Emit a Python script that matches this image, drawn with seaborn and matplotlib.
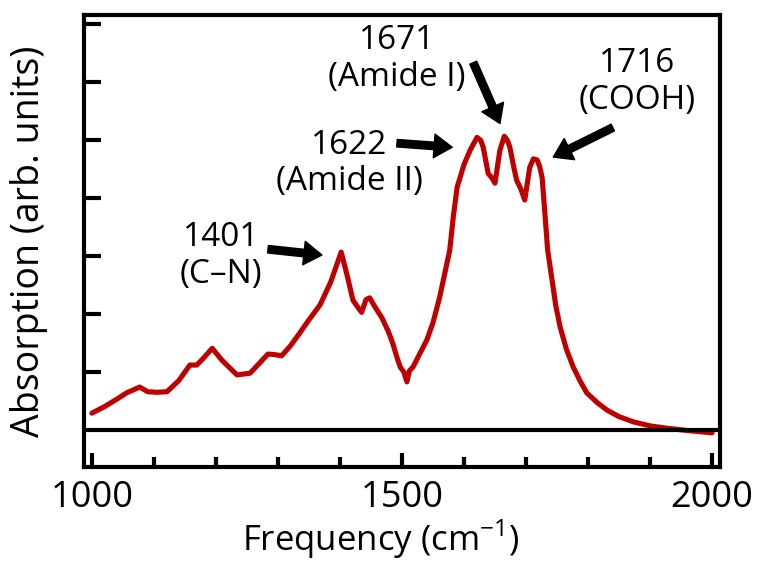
import seaborn as sns
import matplotlib.pyplot as plt
import pandas as pd

# Spectrum
freq = [1000, 1020, 1040, 1056, 1077, 1090, 1105, 1121, 1140, 1158, 1169, 1180,
        1194, 1210, 1234, 1255, 1270, 1284, 1295, 1306, 1320, 1335, 1350, 1368,
        1385, 1402, 1412, 1421, 1430, 1435, 1442, 1448, 1455, 1468, 1478, 1485,
        1492, 1497, 1503, 1508, 1512, 1518, 1528, 1540, 1550, 1561, 1570, 1577,
        1583, 1589, 1600, 1610, 1621, 1627, 1631, 1636, 1639, 1645, 1650, 1654,
        1658, 1665, 1670, 1674, 1680, 1685, 1692, 1698, 1702, 1706, 1712, 1718,
        1722, 1726, 1731, 1735, 1742, 1748, 1755, 1765, 1776, 1787, 1798, 1815,
        1831, 1850, 1873, 1900, 1927, 1960, 2000]
absorb = [0.29, 0.40, 0.53, 0.64, 0.74, 0.66, 0.65, 0.66, 0.85, 1.12, 1.12, 1.24,
          1.41, 1.20, 0.95, 0.98, 1.15, 1.31, 1.30, 1.28, 1.45, 1.67, 1.90, 2.16,
          2.55, 3.07, 2.65, 2.24, 2.10, 2.03, 2.25, 2.28, 2.15, 1.93, 1.70, 1.50,
          1.25, 1.09, 1.00, 0.83, 1.02, 1.09, 1.30, 1.55, 1.85, 2.30, 2.75, 3.10,
          3.70, 4.19, 4.58, 4.83, 5.05, 5.00, 4.88, 4.60, 4.43, 4.35, 4.26, 4.55,
          4.83, 5.07, 5.00, 4.88, 4.55, 4.31, 4.15, 3.97, 4.25, 4.53, 4.68, 4.66,
          4.55, 4.36, 3.67, 3.10, 2.59, 2.15, 1.78, 1.40, 1.09, 0.85, 0.64, 0.47,
          0.34, 0.23, 0.14, 0.07, 0.03, -0.01, -0.05]

# Peak labels: text, text centre, arrow tail, arrow tip (data units)
labels = ['1401\n(C\u2013N)', '1622\n(Amide II)', '1671\n(Amide I)', '1716\n(COOH)']
text_pos = [(1208, 3.0), (1415, 4.6), (1492, 6.4), (1879, 6.0)]
arrow_tail = [(1284, 3.12), (1492, 4.95), (1615, 6.34), (1840, 5.22)]
arrow_tip = [(1371, 3.02), (1581, 4.88), (1658, 5.29), (1744, 4.71)]

df = pd.DataFrame({'freq': freq, 'absorb': absorb})

sns.set_style('ticks')
plt.rcParams['font.family'] = ['Open Sans', 'DejaVu Sans']
plt.rcParams['mathtext.fontset'] = 'custom'
plt.rcParams['mathtext.rm'] = 'Open Sans'
plt.rcParams['text.color'] = 'black'
plt.rcParams['axes.labelcolor'] = 'black'

fig = plt.figure(figsize=(7.62, 5.62), dpi=100)
ax = fig.add_axes([0.110, 0.169, 0.835, 0.804])

sns.lineplot(data=df, x='freq', y='absorb', color='#c00000', linewidth=3.7, ax=ax)
ax.axhline(0, color='black', linewidth=3)

for txt, tp, tail, tip in zip(labels, text_pos, arrow_tail, arrow_tip):
    ax.text(tp[0], tp[1], txt, ha='center', va='center', fontsize=24,
            linespacing=1.15, color='black')
    ax.annotate('', xy=tip, xytext=tail,
                arrowprops=dict(arrowstyle='simple,head_length=0.65,head_width=0.85,tail_width=0.27',
                                color='black', shrinkA=0, shrinkB=0, mutation_scale=20))

ax.set_xlim(987, 2013)
ax.set_ylim(-0.64, 7.16)
ax.set_xticks([1000, 1500, 2000])
ax.set_xticks(range(1000, 2001, 100), minor=True)
ax.set_yticks(range(1, 8))
ax.set_yticklabels([])

ax.tick_params(axis='x', which='major', direction='in', length=10, width=3,
               labelsize=26, pad=9, colors='black')
ax.tick_params(axis='x', which='minor', direction='in', length=7, width=3, colors='black')
ax.tick_params(axis='y', which='major', direction='in', length=12, width=3, colors='black')

for s in ax.spines.values():
    s.set_visible(True)
    s.set_linewidth(3)
    s.set_color('black')

ax.set_xlabel('Frequency (cm$^{-1}$)', fontsize=25)
ax.xaxis.set_label_coords(0.467, -0.112)
ax.set_ylabel('Absorption (arb. units)', fontsize=27, labelpad=22)

fig.savefig('out.png', dpi=100)
